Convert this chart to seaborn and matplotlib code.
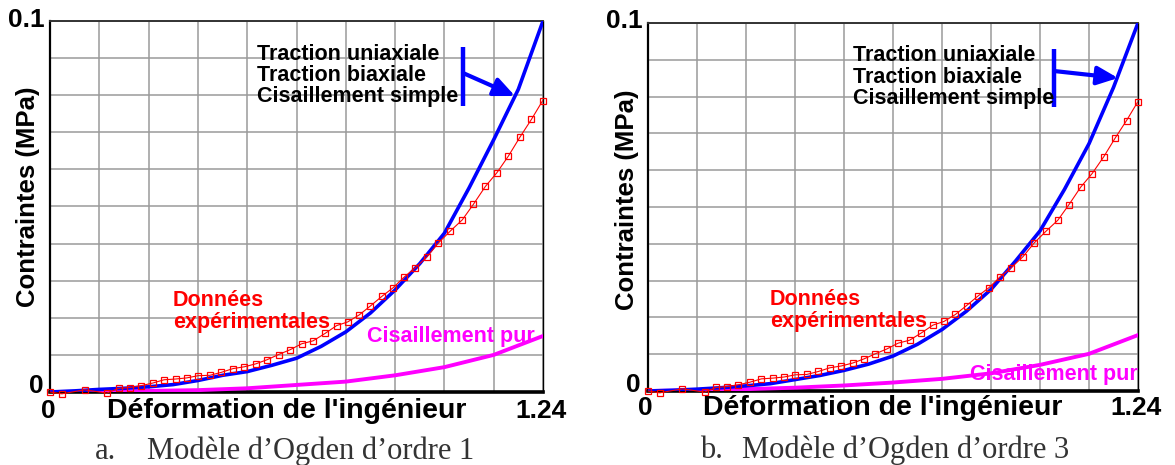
import numpy as np
import pandas as pd
import matplotlib.pyplot as plt
from matplotlib.lines import Line2D
import seaborn as sns

sns.set_theme(style="white")
plt.rcParams['font.family'] = ['Liberation Sans', 'DejaVu Sans']

# model curves (uniaxial / biaxial / simple shear overlap), strain step 0.062
strain_model = [0.0, 0.062, 0.124, 0.186, 0.248, 0.310, 0.372, 0.434, 0.496, 0.558,
                0.620, 0.682, 0.744, 0.806, 0.868, 0.930, 0.992, 1.054, 1.116, 1.178, 1.240]
stress_uni_o1 = [0.0, 0.0003, 0.0007, 0.0010, 0.0014, 0.0020, 0.0031, 0.0045, 0.0055, 0.0072,
                 0.0091, 0.0123, 0.0162, 0.0213, 0.0275, 0.0346, 0.0428, 0.0550, 0.0680, 0.0816, 0.1000]
stress_uni_o3 = [0.0, 0.0002, 0.0005, 0.0009, 0.0014, 0.0020, 0.0031, 0.0042, 0.0056, 0.0073,
                 0.0095, 0.0127, 0.0167, 0.0217, 0.0276, 0.0353, 0.0435, 0.0548, 0.0672, 0.0825, 0.1000]

# pure shear model
strain_shear = [0.0, 0.124, 0.248, 0.372, 0.496, 0.620, 0.744, 0.868, 0.992, 1.116, 1.240]
stress_shear_o1 = [0.0, 0.0001, 0.0003, 0.0005, 0.0010, 0.0019, 0.0028, 0.0045, 0.0067, 0.0100, 0.0151]
stress_shear_o3 = [0.0, 0.0002, 0.0005, 0.0009, 0.0015, 0.0023, 0.0033, 0.0048, 0.0071, 0.0101, 0.0152]

# experimental data
strain_exp = [0.0, 0.030, 0.087, 0.143, 0.173, 0.200, 0.229, 0.258, 0.287, 0.316, 0.344,
              0.373, 0.402, 0.431, 0.460, 0.489, 0.518, 0.546, 0.575, 0.604, 0.633, 0.662,
              0.692, 0.721, 0.749, 0.778, 0.806, 0.835, 0.863, 0.891, 0.919, 0.949, 0.977,
              1.007, 1.037, 1.065, 1.095, 1.124, 1.153, 1.182, 1.211, 1.239]
stress_exp = [0.0, -0.0005, 0.0006, -0.0003, 0.0010, 0.0012, 0.0017, 0.0024, 0.0033, 0.0035, 0.0038,
              0.0044, 0.0045, 0.0053, 0.0063, 0.0068, 0.0076, 0.0087, 0.0101, 0.0114, 0.0130, 0.0138,
              0.0158, 0.0179, 0.0189, 0.0208, 0.0232, 0.0258, 0.0281, 0.0310, 0.0335, 0.0365, 0.0402,
              0.0434, 0.0464, 0.0506, 0.0554, 0.0591, 0.0636, 0.0687, 0.0735, 0.0785]

captions = [("a.", "Modèle d’Ogden d’ordre 1"), ("b.", "Modèle d’Ogden d’ordre 3")]

W, H = 1175, 465
fig = plt.figure(figsize=(W / 100, H / 100), dpi=100)


def ftext(x, y, s, **kw):
    # place text in pixel coords measured from the top-left corner
    return fig.text(x / W, 1 - y / H, s, **kw)


def vbar(x, y0, y1):
    fig.add_artist(Line2D([x / W, x / W], [1 - y0 / H, 1 - y1 / H],
                          transform=fig.transFigure, color="#0000FF", lw=3.2,
                          solid_capstyle="butt"))


def panel(rect, uni, shear):
    ax = fig.add_axes(rect)
    ax.set_xlim(0, 1.24)
    ax.set_ylim(0, 0.1)
    ax.set_xticks(np.linspace(0, 1.24, 11))
    ax.set_yticks(np.linspace(0, 0.1, 11))
    ax.set_xticklabels([])
    ax.set_yticklabels([])
    ax.tick_params(which="major", length=0)
    ax.set_xticks([1.24], minor=True)
    ax.set_yticks([0.1], minor=True)
    ax.tick_params(which="minor", length=3, width=1, color="black", direction="out",
                   bottom=True, left=True)
    ax.grid(True, color="#9a9a9a", lw=1.1)
    ax.set_facecolor("white")
    for side, lw, c in [("left", 1.6, "black"), ("bottom", 2.6, "black"),
                        ("top", 1.4, "#333333"), ("right", 1.0, "black")]:
        ax.spines[side].set_visible(True)
        ax.spines[side].set_linewidth(lw)
        ax.spines[side].set_color(c)

    sns.lineplot(x=strain_shear, y=shear, ax=ax, color="#FF00FF", linewidth=2.8,
                 legend=False, zorder=3)
    sns.lineplot(x=strain_model, y=uni, ax=ax, color="#0000FF", linewidth=2.6,
                 legend=False, zorder=4)
    sns.lineplot(x=strain_exp, y=stress_exp, ax=ax, color="#FF0000", linewidth=0.8,
                 marker="s", markersize=4.8, markerfacecolor="none",
                 markeredgecolor="#FF0000", markeredgewidth=0.9,
                 legend=False, zorder=5, clip_on=False)
    ax.set_xlabel("")
    ax.set_ylabel("")
    return ax


ax_a = panel([50 / W, 1 - 392 / H, 493 / W, 371 / H], stress_uni_o1, stress_shear_o1)
ax_b = panel([648 / W, 1 - 391 / H, 490 / W, 368 / H], stress_uni_o3, stress_shear_o3)

num = dict(size=19, weight="bold", color="black")
lab = dict(size=20.5, weight="bold", color="black")
mid = dict(size=15.5, weight="bold")

# panel a texts
ftext(45, 20, "0.1", ha="right", va="center", **num)
ftext(44, 393, "0", ha="right", va="baseline", **num)
ftext(48, 418, "0", ha="center", va="baseline", **num)
ftext(541, 418, "1.24", ha="center", va="baseline", **num)
ftext(107, 418, "Déformation de l'ingénieur", ha="left", va="baseline", **lab)
ftext(28, 197, "Contraintes (MPa)", rotation=90, ha="center", va="center",
      size=18.5, weight="bold", color="black")
for i, s in enumerate(["Traction uniaxiale", "Traction biaxiale", "Cisaillement simple"]):
    ftext(257, 60 + 21 * i, s, ha="left", va="baseline", color="black", **mid)
ftext(173, 306, "Données", ha="left", va="baseline", color="#FF0000", **mid)
ftext(173, 328, "expérimentales", ha="left", va="baseline", color="#FF0000", **mid)
ftext(367, 342, "Cisaillement pur", ha="left", va="baseline", color="#FF00FF", **mid)
vbar(463, 47, 106)
ax_a.annotate("", xy=(515, H - 96), xycoords="figure pixels",
              xytext=(463, H - 73), textcoords="figure pixels",
              arrowprops=dict(arrowstyle="-|>,head_length=0.9,head_width=0.4",
                              color="#0000FF", lw=3, shrinkA=0, shrinkB=0,
                              mutation_scale=14))

# panel b texts
ftext(643, 21, "0.1", ha="right", va="center", **num)
ftext(641, 392, "0", ha="right", va="baseline", **num)
ftext(645, 415, "0", ha="center", va="baseline", **num)
ftext(1136, 415, "1.24", ha="center", va="baseline", **num)
ftext(703, 415, "Déformation de l'ingénieur", ha="left", va="baseline", **lab)
ftext(627, 200, "Contraintes (MPa)", rotation=90, ha="center", va="center",
      size=18.5, weight="bold", color="black")
for i, s in enumerate(["Traction uniaxiale", "Traction biaxiale", "Cisaillement simple"]):
    ftext(853, 61 + 21.5 * i, s, ha="left", va="baseline", color="black", **mid)
ftext(770, 305, "Données", ha="left", va="baseline", color="#FF0000", **mid)
ftext(770, 327, "expérimentales", ha="left", va="baseline", color="#FF0000", **mid)
ftext(970, 380, "Cisaillement pur", ha="left", va="baseline", color="#FF00FF", **mid)
vbar(1054, 49, 107)
ax_b.annotate("", xy=(1118, H - 78), xycoords="figure pixels",
              xytext=(1054, H - 71), textcoords="figure pixels",
              arrowprops=dict(arrowstyle="-|>,head_length=0.9,head_width=0.4",
                              color="#0000FF", lw=3, shrinkA=0, shrinkB=0,
                              mutation_scale=14))

# captions
cap = dict(size=22, color="#333333", family=["Liberation Serif", "DejaVu Serif"],
           va="baseline", ha="left")
ftext(95, 459, captions[0][0], **cap)
ftext(147, 459, captions[0][1], **cap)
ftext(700, 458, captions[1][0], **cap)
ftext(742, 458, captions[1][1], **cap)

fig.savefig("out.png", dpi=100, facecolor="white")
